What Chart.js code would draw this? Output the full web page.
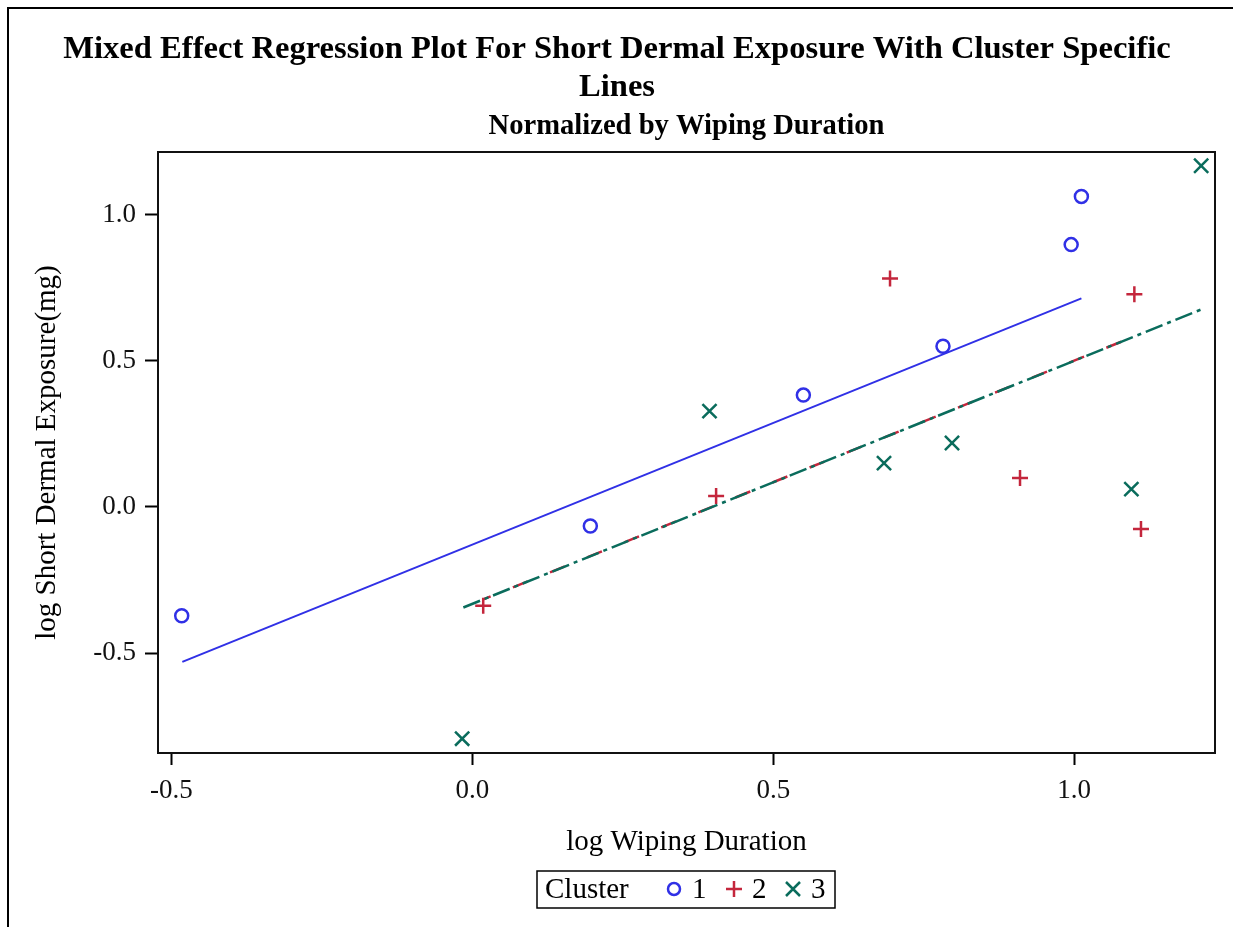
<!DOCTYPE html>
<html>
<head>
<meta charset="utf-8">
<script src="https://cdn.jsdelivr.net/npm/chart.js@4/dist/chart.umd.min.js"></script>
<style>
  html, body { margin: 0; padding: 0; background: #fff; }
  #wrap { width: 1235px; height: 927px; }
</style>
</head>
<body>
<div id="wrap"><canvas id="myChart" width="1235" height="927"></canvas></div>
<script>
// cluster observations (log wiping duration, log short dermal exposure)
const c1x = [-0.483, 0.196, 0.550, 0.782, 0.995, 1.012];
const c1y = [-0.372, -0.065, 0.383, 0.550, 0.898, 1.063];
const c2x = [0.018, 0.405, 0.694, 0.910, 1.100, 1.111];
const c2y = [-0.338, 0.038, 0.782, 0.099, 0.728, -0.075];
const c3x = [-0.017, 0.394, 0.684, 0.797, 1.095, 1.211];
const c3y = [-0.793, 0.328, 0.150, 0.219, 0.061, 1.168];

// cluster specific fitted lines (end points)
const fit1x = [-0.482, 1.012];
const fit1y = [-0.530, 0.714];
const fit2x = [0.018, 1.111];
const fit2y = [-0.316, 0.593];
const fit3x = [-0.015, 1.211];
const fit3y = [-0.344, 0.676];

const xTicks = [-0.5, 0.0, 0.5, 1.0];
const yTicks = [-0.5, 0.0, 0.5, 1.0];

const clusters = ['1', '2', '3'];
const colors = ['#3030e6', '#c4263c', '#0a6c5c'];

const pts = (xs, ys) => xs.map((x, i) => ({x: x, y: ys[i]}));

Chart.defaults.font.family = "'Liberation Serif', 'Times New Roman', serif";
Chart.defaults.color = '#000';

const serif = "'Liberation Serif', 'Times New Roman', serif";

const frame = {
  id: 'frame',
  beforeDraw(chart) {
    const ctx = chart.ctx;
    ctx.save();
    ctx.fillStyle = '#fff';
    ctx.fillRect(0, 0, chart.width, chart.height);
    ctx.restore();
  },
  afterDraw(chart) {
    const ctx = chart.ctx;
    const a = chart.chartArea;
    ctx.save();
    // outer border
    ctx.strokeStyle = '#000';
    ctx.lineWidth = 2;
    ctx.beginPath();
    ctx.moveTo(8, 927);
    ctx.lineTo(8, 8);
    ctx.lineTo(1233, 8);
    ctx.stroke();
    // plot box
    ctx.strokeStyle = '#111';
    ctx.lineWidth = 2;
    ctx.strokeRect(a.left, a.top, a.right - a.left, a.bottom - a.top);

    // titles
    ctx.fillStyle = '#000';
    ctx.textAlign = 'center';
    ctx.textBaseline = 'alphabetic';
    ctx.font = 'bold 32.6px ' + serif;
    ctx.fillText('Mixed Effect Regression Plot For Short Dermal Exposure With Cluster Specific', 617, 58);
    ctx.fillText('Lines', 617, 96);
    ctx.font = 'bold 28.6px ' + serif;
    ctx.fillText('Normalized by Wiping Duration', (a.left + a.right) / 2, 134);

    // legend
    ctx.lineWidth = 1.5;
    ctx.strokeStyle = '#000';
    ctx.strokeRect(537, 871, 298, 37);
    ctx.font = '29px ' + serif;
    ctx.textAlign = 'left';
    ctx.textBaseline = 'middle';
    ctx.fillText('Cluster', 545, 890);
    const mx = [674, 734, 793];
    const lx = [692, 752, 811];
    ctx.lineWidth = 2.5;
    for (let i = 0; i < clusters.length; i++) {
      ctx.strokeStyle = colors[i];
      ctx.beginPath();
      const cx = mx[i], cy = 889;
      if (i === 0) {
        ctx.arc(cx, cy, 6, 0, Math.PI * 2);
      } else if (i === 1) {
        ctx.moveTo(cx - 8, cy); ctx.lineTo(cx + 8, cy);
        ctx.moveTo(cx, cy - 8); ctx.lineTo(cx, cy + 8);
      } else {
        ctx.moveTo(cx - 7, cy - 7); ctx.lineTo(cx + 7, cy + 7);
        ctx.moveTo(cx - 7, cy + 7); ctx.lineTo(cx + 7, cy - 7);
      }
      ctx.stroke();
      ctx.fillStyle = '#000';
      ctx.fillText(clusters[i], lx[i], 890);
    }
    ctx.restore();
  }
};

const ctx = document.getElementById('myChart').getContext('2d');
new Chart(ctx, {
  type: 'scatter',
  data: {
    datasets: [
      {
        label: 'fit 1', type: 'line', data: pts(fit1x, fit1y),
        borderColor: colors[0], borderWidth: 2, pointRadius: 0, fill: false
      },
      {
        label: 'fit 3', type: 'line', data: pts(fit3x, fit3y),
        borderColor: colors[2], borderWidth: 2.5, pointRadius: 0, fill: false,
        borderDash: [18, 5, 4, 5]
      },
      {
        label: 'fit 2', type: 'line', data: pts(fit2x, fit2y),
        borderColor: colors[1], borderWidth: 2.5, pointRadius: 0, fill: false,
        borderDash: [16, 24], borderDashOffset: 8
      },
      {
        label: '1', data: pts(c1x, c1y), pointStyle: 'circle',
        pointRadius: 6.5, borderColor: colors[0], backgroundColor: 'rgba(0,0,0,0)', borderWidth: 2.5
      },
      {
        label: '2', data: pts(c2x, c2y), pointStyle: 'cross',
        pointRadius: 8, borderColor: colors[1], borderWidth: 2.5
      },
      {
        label: '3', data: pts(c3x, c3y), pointStyle: 'crossRot',
        pointRadius: 10, borderColor: colors[2], borderWidth: 2.5
      }
    ]
  },
  options: {
    responsive: false,
    animation: false,
    layout: { padding: { top: 152, right: 20, left: 0, bottom: 0 } },
    plugins: {
      legend: { display: false },
      title: { display: false },
      tooltip: { enabled: false }
    },
    scales: {
      x: {
        type: 'linear',
        min: -0.5224, max: 1.234,
        afterFit: (axis) => { axis.height = 174; },
        afterBuildTicks: (axis) => { axis.ticks = xTicks.map(v => ({value: v})); },
        grid: { drawOnChartArea: false, tickLength: 12, tickWidth: 2, tickColor: '#000' },
        border: { display: false },
        ticks: { font: { size: 27 }, padding: 10, maxRotation: 0, color: '#111',
          callback: (v) => Number(v).toFixed(1) },
        title: { display: true, text: 'log Wiping Duration', font: { size: 29 },
          padding: { top: 0, bottom: 67 } }
      },
      y: {
        type: 'linear',
        min: -0.842, max: 1.215,
        afterFit: (axis) => { axis.width = 158; },
        afterBuildTicks: (axis) => { axis.ticks = yTicks.map(v => ({value: v})); },
        grid: { drawOnChartArea: false, tickLength: 13, tickWidth: 2, tickColor: '#000' },
        border: { display: false },
        ticks: { font: { size: 27 }, padding: 9, color: '#111',
          callback: (v) => Number(v).toFixed(1) },
        title: { display: true, text: 'log Short Dermal Exposure(mg)', font: { size: 29 },
          padding: { top: 30, bottom: 0 } }
      }
    }
  },
  plugins: [frame]
});
</script>
</body>
</html>
